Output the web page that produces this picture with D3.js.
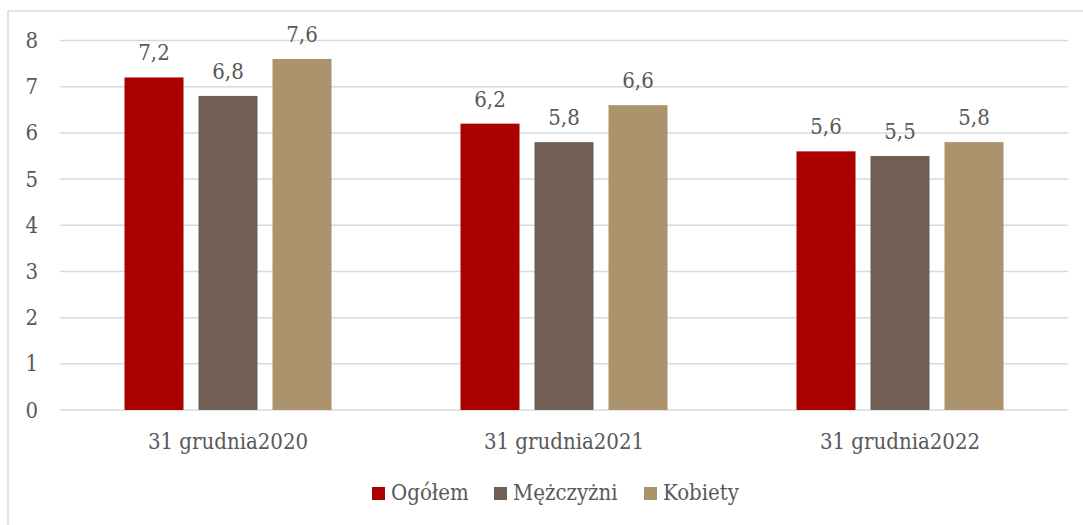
<!DOCTYPE html>
<html>
<head>
<meta charset="utf-8">
<script src="https://cdn.jsdelivr.net/npm/d3@7"></script>
<style>
  body { margin: 0; background: #fff; }
  #chart { width: 1083px; height: 525px; }
  text { font-family: "DejaVu Serif Condensed", "DejaVu Serif", serif; fill: #595959; }
</style>
</head>
<body>
<div id="chart"></div>
<script>
// dane
const categories = ['31 grudnia2020', '31 grudnia2021', '31 grudnia2022'];
const seriesNames = ['Ogółem', 'Mężczyżni', 'Kobiety'];
const ogolem = [7.2, 6.2, 5.6];
const mezczyzni = [6.8, 5.8, 5.5];
const kobiety = [7.6, 6.6, 5.8];
const yTicks = [0, 1, 2, 3, 4, 5, 6, 7, 8];
const colors = ['#aa0000', '#725f53', '#ab936e'];

const seriesValues = [ogolem, mezczyzni, kobiety];
const FONT = '"DejaVu Serif Condensed", "DejaVu Serif", serif';
const FS = '22px';

const W = 1083, H = 525;
const plot = { left: 60, right: 1068, top: 40.5, bottom: 410 };

const svg = d3.select('#chart').append('svg')
  .attr('width', W)
  .attr('height', H);

// ramka wykresu
svg.append('rect')
  .attr('x', 8).attr('y', 11)
  .attr('width', W + 10).attr('height', H + 10)
  .attr('fill', 'none')
  .attr('stroke', '#d9d9d9')
  .attr('stroke-width', 1.5);

const x0 = d3.scaleBand()
  .domain(categories)
  .range([plot.left, plot.right])
  .paddingInner(0)
  .paddingOuter(0);

const x1 = d3.scaleBand()
  .domain(seriesNames)
  .range([64.5, 336 - 64.5])
  .paddingInner(15 / 74)
  .paddingOuter(0);

const y = d3.scaleLinear()
  .domain([0, 8])
  .range([plot.bottom, plot.top]);

// linie siatki
svg.append('g')
  .selectAll('line')
  .data(yTicks)
  .enter().append('line')
  .attr('x1', plot.left)
  .attr('x2', plot.right)
  .attr('y1', d => y(d))
  .attr('y2', d => y(d))
  .attr('stroke', '#d9d9d9')
  .attr('stroke-width', 1.5);

// os Y
const yAxis = svg.append('g')
  .attr('transform', `translate(${plot.left - 22},0)`)
  .call(d3.axisLeft(y).tickValues(yTicks).tickSize(0).tickPadding(0));
yAxis.select('.domain').remove();
yAxis.selectAll('text')
  .style('font-size', FS)
  .style('font-family', FONT)
  .attr('fill', '#595959');

// os X
const xAxis = svg.append('g')
  .attr('transform', `translate(0,${plot.bottom})`)
  .call(d3.axisBottom(x0).tickSize(0).tickPadding(23));
xAxis.select('.domain').remove();
xAxis.selectAll('text')
  .style('font-size', FS)
  .style('font-family', FONT)
  .attr('fill', '#595959');

// slupki
const groups = svg.append('g')
  .selectAll('g')
  .data(categories)
  .enter().append('g')
  .attr('transform', d => `translate(${x0(d)},0)`);

groups.each(function(cat, ci) {
  const g = d3.select(this);
  const rows = seriesNames.map((s, si) => ({ s, si, v: seriesValues[si][ci] }));
  g.selectAll('rect')
    .data(rows)
    .enter().append('rect')
    .attr('x', d => x1(d.s))
    .attr('y', d => y(d.v))
    .attr('width', x1.bandwidth())
    .attr('height', d => y(0) - y(d.v))
    .attr('fill', d => colors[d.si]);
  g.selectAll('text')
    .data(rows)
    .enter().append('text')
    .attr('x', d => x1(d.s) + x1.bandwidth() / 2)
    .attr('y', d => y(d.v) - 17)
    .attr('text-anchor', 'middle')
    .style('font-size', FS)
    .attr('fill', '#404040')
    .text(d => String(d.v.toFixed(1)).replace('.', ','));
});

// legenda
const legendX = [372, 494, 644];
const legend = svg.append('g');
seriesNames.forEach((s, i) => {
  legend.append('rect')
    .attr('x', legendX[i]).attr('y', 487)
    .attr('width', 13).attr('height', 13)
    .attr('fill', colors[i]);
  legend.append('text')
    .attr('x', legendX[i] + 19)
    .attr('y', 500)
    .style('font-size', FS)
    .text(s);
});
</script>
</body>
</html>
